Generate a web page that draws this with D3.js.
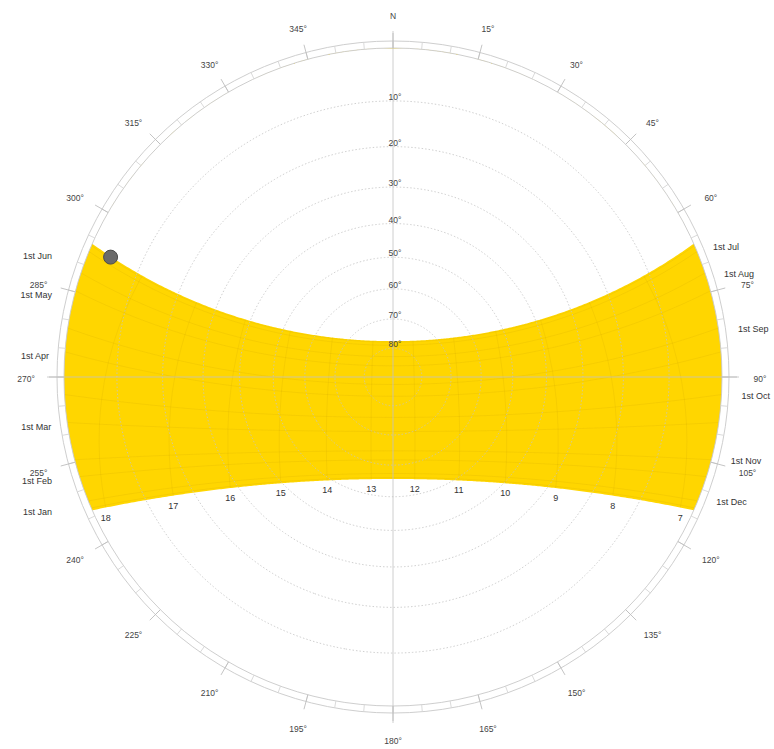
<!DOCTYPE html>
<html>
<head>
<meta charset="utf-8">
<script src="https://cdn.jsdelivr.net/npm/d3@7"></script>
<style>
  body { margin: 0; background: #fff; }
  svg { display: block; }
  text { font-family: "Liberation Sans", Arial, sans-serif; }
</style>
</head>
<body>
<svg id="chart" width="774" height="749"></svg>
<script>
// ---- Site and sun-path data ----
const latitude = 11;                       // degrees north
const solarNoonClock = 12.5;               // local clock time of solar noon
const solsticeDeclinations = [23.44, -23.44];

const monthLabels = ["1st Jan", "1st Feb", "1st Mar", "1st Apr", "1st May", "1st Jun",
                     "1st Jul", "1st Aug", "1st Sep", "1st Oct", "1st Nov", "1st Dec"];
const monthDeclinations = [-23.0, -17.3, -7.8, 4.3, 14.9, 22.0,
                           23.1, 18.1, 8.4, -3.0, -14.3, -21.7];

const hourLabels = [7, 8, 9, 10, 11, 12, 13, 14, 15, 16, 17, 18];
const altitudeTicks = [10, 20, 30, 40, 50, 60, 70, 80];
const azimuthTicks = [0, 15, 30, 45, 60, 75, 90, 105, 120, 135, 150, 165,
                      180, 195, 210, 225, 240, 255, 270, 285, 300, 315, 330, 345];
const minorAzimuthTicks = [0, 5, 10, 15, 20, 25, 30, 35, 40, 45, 50, 55, 60, 65, 70, 75, 80, 85,
                           90, 95, 100, 105, 110, 115, 120, 125, 130, 135, 140, 145, 150, 155, 160, 165, 170, 175,
                           180, 185, 190, 195, 200, 205, 210, 215, 220, 225, 230, 235, 240, 245, 250, 255, 260, 265,
                           270, 275, 280, 285, 290, 295, 300, 305, 310, 315, 320, 325, 330, 335, 340, 345, 350, 355];
const sunMarker = { az: 293, alt: 4 };

// ---- Layout ----
const cx = 393, cy = 377, R = 329;
const ringWidth = 7;

const svg = d3.select("#chart");

// Sky dome: zenith at the centre, north up, east to the right (stereographic)
const projection = d3.geoStereographic()
  .rotate([0, -90])
  .scale(R)
  .translate([cx, cy])
  .clipAngle(90)
  .precision(0.2);
const path = d3.geoPath(projection);

// azimuth/altitude -> sphere coordinates used by the projection
const sky = (az, alt) => [180 - az, alt];
// hour angle/declination -> sky coordinates for this latitude
const equatorialToSky = d3.geoRotation([0, 90 - latitude]);
const sunAt = (hour, decl) => equatorialToSky([-15 * (hour - solarNoonClock), decl]);
const celestialPole = sky(0, latitude);

const rad = Math.PI / 180;
const polar = (az, r) => [cx + r * Math.sin(az * rad), cy - r * Math.cos(az * rad)];

// ---- Sun-path band (between the two solstice day paths) ----
const summerPath = d3.geoCircle().center(celestialPole).radius(90 - solsticeDeclinations[0]).precision(0.5)();
const winterPath = d3.geoCircle().center(celestialPole).radius(90 - solsticeDeclinations[1]).precision(0.5)();

svg.append("path")
  .attr("d", path(winterPath) + path(summerPath))
  .attr("fill-rule", "evenodd")
  .attr("fill", "#ffd600");

// faint day paths for the first of each month
const bandLines = svg.append("g")
  .attr("fill", "none")
  .attr("stroke", "rgba(160,120,0,0.12)")
  .attr("stroke-width", 0.8);

monthDeclinations.forEach(d => {
  const ring = d3.geoCircle().center(celestialPole).radius(90 - d).precision(0.5)();
  bandLines.append("path")
    .attr("d", path({ type: "LineString", coordinates: ring.coordinates[0] }));
});

// faint hour lines across the band
const declinationSteps = [solsticeDeclinations[1], ...monthDeclinations, solsticeDeclinations[0]]
  .slice().sort((a, b) => a - b);
hourLabels.forEach(h => {
  bandLines.append("path")
    .attr("d", path({ type: "LineString", coordinates: declinationSteps.map(d => sunAt(h, d)) }));
});

// ---- Altitude rings ----
svg.append("g")
  .attr("fill", "none")
  .attr("stroke", "#c4c4c4")
  .attr("stroke-width", 0.8)
  .attr("stroke-dasharray", "1.5,2")
  .selectAll("path")
  .data(altitudeTicks)
  .join("path")
  .attr("d", alt => path(d3.geoCircle().center([0, 90]).radius(90 - alt).precision(0.5)()));

// ---- Horizon ring with azimuth ticks ----
const ring = svg.append("g").attr("fill", "none").attr("stroke", "#c8c8c8").attr("stroke-width", 0.9);
ring.append("circle").attr("cx", cx).attr("cy", cy).attr("r", R);
ring.append("circle").attr("cx", cx).attr("cy", cy).attr("r", R + ringWidth);

ring.selectAll("line.minor")
  .data(minorAzimuthTicks)
  .join("line")
  .attr("class", "minor")
  .attr("stroke", "#d6d6d6")
  .each(function (az) {
    const p0 = polar(az, R), p1 = polar(az, R + ringWidth);
    d3.select(this).attr("x1", p0[0]).attr("y1", p0[1]).attr("x2", p1[0]).attr("y2", p1[1]);
  });

ring.selectAll("line.major")
  .data(azimuthTicks)
  .join("line")
  .attr("class", "major")
  .attr("stroke", "#bdbdbd")
  .each(function (az) {
    const p0 = polar(az, R), p1 = polar(az, R + ringWidth + 8);
    d3.select(this).attr("x1", p0[0]).attr("y1", p0[1]).attr("x2", p1[0]).attr("y2", p1[1]);
  });

// north-south and east-west axes
const axes = svg.append("g").attr("stroke", "#c2c2c2").attr("stroke-width", 0.8);
[0, 90].forEach(az => {
  const p0 = polar(az, R + ringWidth + 10), p1 = polar(az + 180, R + ringWidth + 10);
  axes.append("line").attr("x1", p0[0]).attr("y1", p0[1]).attr("x2", p1[0]).attr("y2", p1[1]);
});

// ---- Azimuth labels ----
svg.append("g")
  .attr("font-size", 8.5)
  .attr("fill", "#444")
  .attr("text-anchor", "middle")
  .selectAll("text")
  .data(azimuthTicks)
  .join("text")
  .attr("x", az => polar(az, 359)[0] + 8 * Math.sin(az * rad))
  .attr("y", az => polar(az, 359)[1] + 2 - 3.5 * Math.cos(az * rad))
  .attr("dy", "0.35em")
  .text(az => az === 0 ? "N" : az + "°");

// ---- Altitude labels along the north axis ----
svg.append("g")
  .attr("font-size", 8.5)
  .attr("fill", "#444")
  .attr("text-anchor", "middle")
  .selectAll("text")
  .data(altitudeTicks)
  .join("text")
  .attr("x", alt => projection(sky(0, alt))[0] + 2)
  .attr("y", alt => projection(sky(0, alt))[1])
  .attr("dy", "-0.1em")
  .text(alt => alt + "°");

// ---- Hour labels along the winter solstice path ----
svg.append("g")
  .attr("font-size", 9)
  .attr("fill", "#333")
  .attr("text-anchor", "middle")
  .selectAll("text")
  .data(hourLabels)
  .join("text")
  .attr("x", h => projection(sunAt(h, solsticeDeclinations[1]))[0])
  .attr("y", h => projection(sunAt(h, solsticeDeclinations[1]))[1] + 13)
  .text(h => h);

// ---- Date labels at sunset (Jan-Jun, west) and sunrise (Jul-Dec, east) ----
const cosLat = Math.cos(latitude * rad);
svg.append("g")
  .attr("font-size", 9)
  .attr("fill", "#333")
  .selectAll("text")
  .data(monthLabels.map((label, i) => ({ label, decl: monthDeclinations[i], west: i < 6 })))
  .join("text")
  .each(function (d) {
    const off = Math.asin(Math.sin(d.decl * rad) / cosLat) / rad;
    const az = d.west ? 270 + off : 90 - off;
    const edge = polar(az, R);                 // where the day path meets the horizon
    const p = polar(az, d.west ? 345 : 349);
    const x = d.west ? Math.min(p[0], cx - 341) : p[0];
    d3.select(this)
      .attr("x", x)
      .attr("y", edge[1] + (d.west ? 4 : 1))
      .attr("dy", "0.35em")
      .attr("text-anchor", d.west ? "end" : "start")
      .text(d.label);
  });

// ---- Current sun position ----
const sp = projection(sky(sunMarker.az, sunMarker.alt));
svg.append("circle")
  .attr("cx", sp[0]).attr("cy", sp[1]).attr("r", 7)
  .attr("fill", "#6a6a6a")
  .attr("stroke", "#4a4a4a")
  .attr("stroke-width", 1);
</script>
</body>
</html>
